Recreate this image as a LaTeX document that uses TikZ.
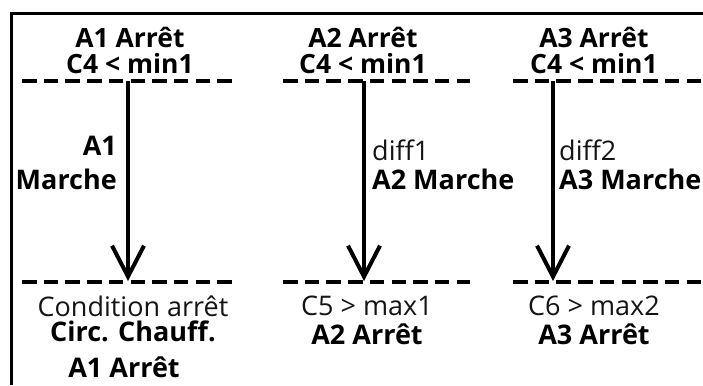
\documentclass[tikz,border=0pt]{standalone}
\usepackage{fontspec}
\setmainfont{Open Sans}
\usetikzlibrary{arrows.meta}
\newcommand{\maigre}{\mdseries\color{black!92}}
\begin{document}
\begin{tikzpicture}[x=1pt,y=-1pt,
    etiq/.style={font=\fontsize{27}{24}\selectfont\bfseries,inner sep=0pt,text depth=0pt,anchor=south,align=center},
    titre/.style={etiq,font=\fontsize{26.5}{26}\selectfont\bfseries},
    seuil/.style={line width=4pt,dash pattern=on 14.5pt off 7.2pt},
    fleche/.style={line width=4pt,-{Straight Barb[length=31pt,width=32pt]}}]
        \useasboundingbox (0,0) rectangle (703,385);
        % cadre
        \coordinate (c0) at (11,385);
        \coordinate (c1) at (11,14);
        \coordinate (c2) at (703,14);
        \draw[line width=3pt] (c0)--(c1)--(c2);
        % colonne 1
        \node[titre] (t1) at (130,74) {A1 Arrêt\\C4 < min1};
        \coordinate (h1a) at (22,81);  \coordinate (h1b) at (232,81);
        \coordinate (b1a) at (22,282); \coordinate (b1b) at (232,282);
        \draw[seuil] (h1a)--(h1b);
        \draw[seuil] (b1a)--(b1b);
        \coordinate (s1) at (128,81); \coordinate (e1) at (128,281);
        \draw[fleche] (s1)--(e1);
        \node[etiq,anchor=south east,align=right] (m1) at (117,190) {A1\\[10pt]Marche};
        \node[etiq] (f1) at (133,342) {{\maigre Condition arrêt}\\[1pt]Circ. Chauff.};
        \node[etiq] (g1) at (124,378) {A1 Arrêt};
        % colonne 2
        \node[titre] (t2) at (363,74) {A2 Arrêt\\C4 < min1};
        \coordinate (h2a) at (283,81);  \coordinate (h2b) at (470,81);
        \coordinate (b2a) at (283,282); \coordinate (b2b) at (470,282);
        \draw[seuil] (h2a)--(h2b);
        \draw[seuil] (b2a)--(b2b);
        \coordinate (s2) at (364,81); \coordinate (e2) at (364,281);
        \draw[fleche] (s2)--(e2);
        \node[etiq,anchor=south west,align=left] (m2) at (372,190) {{\maigre diff1}\\[5pt]A2 Marche};
        \node[etiq] (f2) at (367,345) {{\maigre C5 > max1}\\[5pt]A2 Arrêt};
        % colonne 3
        \node[titre] (t3) at (594,74) {A3 Arrêt\\C4 < min1};
        \coordinate (h3a) at (513,81);  \coordinate (h3b) at (703,81);
        \coordinate (b3a) at (513,282); \coordinate (b3b) at (703,282);
        \draw[seuil] (h3a)--(h3b);
        \draw[seuil] (b3a)--(b3b);
        \coordinate (s3) at (553,81); \coordinate (e3) at (553,281);
        \draw[fleche] (s3)--(e3);
        \node[etiq,anchor=south west,align=left] (m3) at (559,190) {{\maigre diff2}\\[5pt]A3 Marche};
        \node[etiq] (f3) at (594,345) {{\maigre C6 > max2}\\[5pt]A3 Arrêt};
\end{tikzpicture}
\end{document}
